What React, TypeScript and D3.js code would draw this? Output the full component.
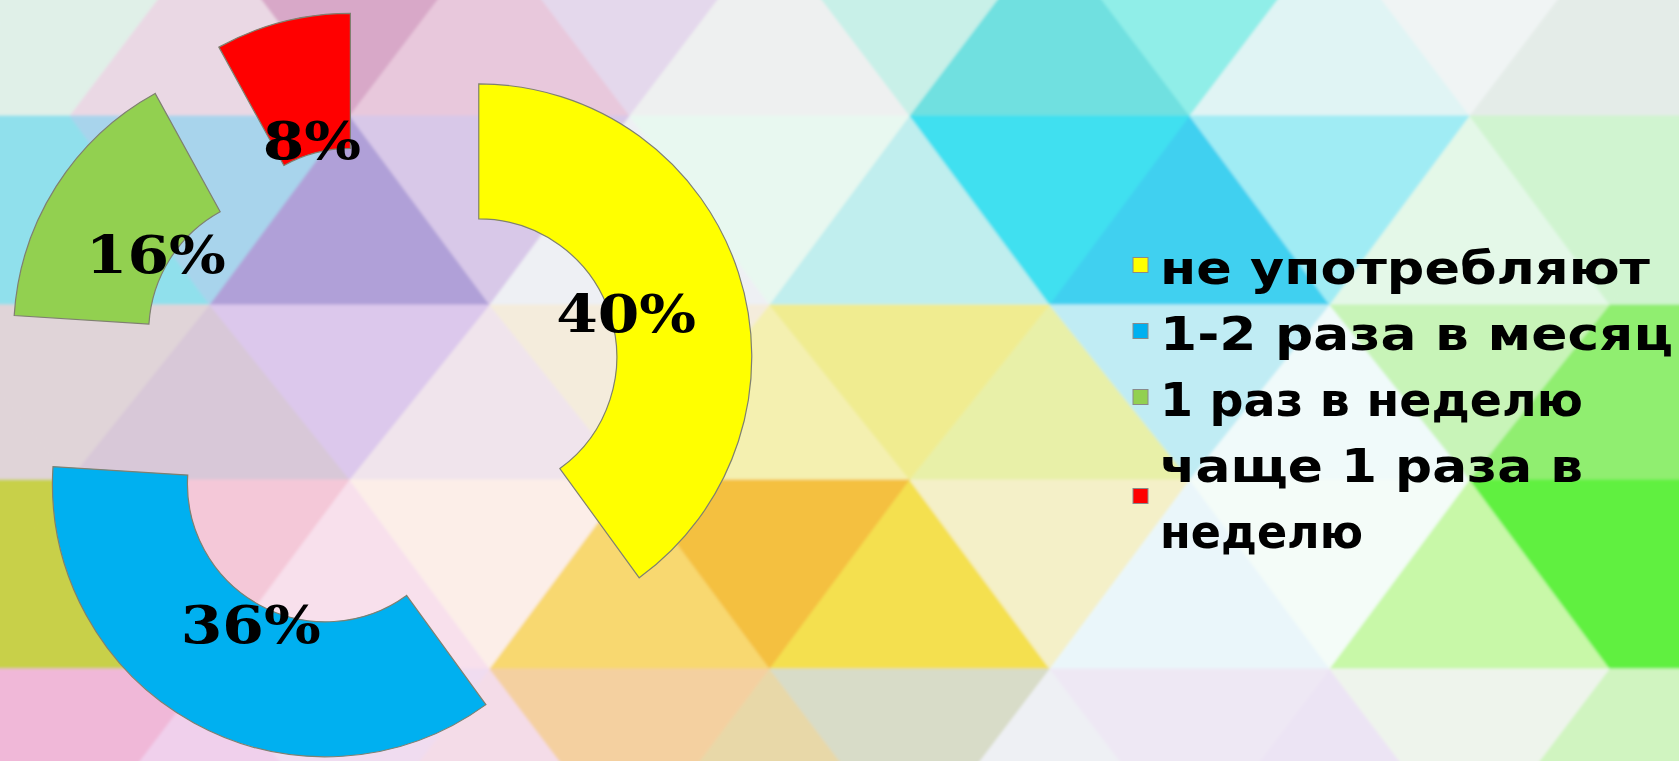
import React from 'react';
import * as d3 from 'd3';

// ---- data ----
const categories = ['не употребляют', '1-2 раза в месяц', '1 раз в неделю', 'чаще 1 раза в неделю'];
const values = [40, 36, 16, 8];
const sliceColors = ['#FFFF00', '#00B0F0', '#92D050', '#FF0000'];
const legendLines = [['не употребляют'], ['1-2 раза в месяц'], ['1 раз в неделю'], ['чаще 1 раза в', 'неделю']];
// rendered widths of each legend line (style, to mimic the original font's metrics)
const legendLineWidths = [[490], [513], [423], [423, 203]];

// background palette (approximation of the mosaic photo), rows x cols
const bgRows = [
  ['#e0f0e8', '#ead8e4', '#d8a8c8', '#e8c8dc', '#e4d8ec', '#eef0f0', '#c8f0e8', '#70e0e0', '#90eee8', '#e0f4f4', '#f0f4f4', '#e4ece8'],
  ['#90e0ec', '#a8d4ec', '#b0a0d8', '#d8c8e8', '#eef0f4', '#e8f8f0', '#c0eeee', '#40e0f0', '#40d0f0', '#a0ecf4', '#e4f8e8', '#d0f4d0'],
  ['#e0d4d8', '#d8c8d8', '#dcc8ec', '#f0e4ec', '#f4ecdc', '#f4f0b0', '#f0ec90', '#e8f0a8', '#c0ecf4', '#f0fafa', '#c8f4b8', '#90ee70'],
  ['#c8d048', '#f4c8d8', '#f8e0ec', '#fceee8', '#f8d870', '#f4c040', '#f4e050', '#f4f0c8', '#eaf6fa', '#f4fcf8', '#c8f8a8', '#60f040'],
  ['#f0b8d8', '#f0d0ec', '#f0dcf0', '#f4dce8', '#f4d0a0', '#e8d8a8', '#d8dcc8', '#eef0f4', '#eee8f4', '#ece4f4', '#eef4ec', '#d0f4c0'],
];

const W = 1679;
const H = 761;

function Background() {
  const bandTops = [-69, 116, 305, 480, 669];
  const half = 140;
  const tris: { pts: string; fill: string }[] = [];
  bandTops.forEach((y0, r) => {
    const y1 = r < bandTops.length - 1 ? bandTops[r + 1] : y0 + 185;
    const phase = r % 2 === 0 ? 0 : 1;
    for (let k = -2; k < 14; k++) {
      const cx = 70 + k * half;
      const down = (((k + phase) % 2) + 2) % 2 === 0;
      const pts = down
        ? [[cx - half, y0], [cx + half, y0], [cx, y1]]
        : [[cx - half, y1], [cx + half, y1], [cx, y0]];
      const col = Math.max(0, Math.min(11, k));
      tris.push({ pts: pts.map((p) => p.join(',')).join(' '), fill: bgRows[r][col] });
    }
  });
  return (
    <g filter="url(#soft)">
      <rect x={0} y={0} width={W} height={H} fill="#eef0f0" />
      {tris.map((t, i) => (
        <polygon key={i} points={t.pts} fill={t.fill} stroke={t.fill} strokeWidth={1} />
      ))}
    </g>
  );
}

export default function App() {
  const center = { x: 377, y: 390 };
  const explode = 107;
  const outerR = 273;
  const innerR = 138;
  const labelR = 155;

  const pie = d3.pie<number>().sort(null).value((d) => d).startAngle(0).endAngle(2 * Math.PI);
  const arcs = pie(values);
  const arcGen = d3.arc<d3.PieArcDatum<number>>().innerRadius(innerR).outerRadius(outerR);
  const labelArc = d3.arc<d3.PieArcDatum<number>>().innerRadius(labelR).outerRadius(labelR);
  const total = d3.sum(values);

  const legendX = 1133;
  const textX = 1160;
  const firstBaseline = 284;
  const lineStep = 66;
  const marker = 15;

  let lineIdx = 0;
  const legendItems = legendLines.map((lines, i) => {
    const start = lineIdx;
    lineIdx += lines.length;
    const baselines = lines.map((_, j) => firstBaseline + (start + j) * lineStep);
    const midBase = (baselines[0] + baselines[baselines.length - 1]) / 2;
    return { lines, baselines, widths: legendLineWidths[i], markerCy: midBase - 19, color: sliceColors[i], name: categories[i] };
  });

  return (
    <svg
      width={W}
      height={H}
      style={{ position: 'fixed', left: 0, top: 0, display: 'block' }}
      xmlns="http://www.w3.org/2000/svg"
    >
      <defs>
        <filter id="soft" x="-5%" y="-5%" width="110%" height="110%">
          <feGaussianBlur stdDeviation="1.5" />
        </filter>
      </defs>
      <Background />
      <g>
        {arcs.map((a, i) => {
          const mid = (a.startAngle + a.endAngle) / 2;
          const dx = explode * Math.sin(mid);
          const dy = -explode * Math.cos(mid);
          const [lx, ly] = labelArc.centroid(a);
          const pct = Math.round((a.value / total) * 100);
          return (
            <g key={i} transform={`translate(${center.x + dx},${center.y + dy})`}>
              <path d={arcGen(a) || ''} fill={sliceColors[i]} stroke="#7f8070" strokeWidth={1.2} />
              <g transform={`translate(${lx},${ly + 23}) scale(1.15,1)`}>
                <text
                  x={0}
                  y={0}
                  textAnchor="middle"
                  fontFamily="'DejaVu Serif', serif"
                  fontWeight="bold"
                  fontSize={52}
                  fill="#000"
                >
                  {pct}%
                </text>
              </g>
            </g>
          );
        })}
      </g>
      <g>
        {legendItems.map((it, i) => (
          <g key={i}>
            <rect
              x={legendX}
              y={it.markerCy - marker / 2}
              width={marker}
              height={marker}
              fill={it.color}
              stroke="#8a8a8a"
              strokeWidth={1}
            />
            {it.lines.map((ln, j) => (
              <text
                key={j}
                x={textX}
                y={it.baselines[j]}
                fontFamily="'DejaVu Sans', sans-serif"
                fontWeight="bold"
                fontSize={47}
                fill="#000"
                textLength={it.widths[j]}
                lengthAdjust="spacingAndGlyphs"
              >
                {ln}
              </text>
            ))}
          </g>
        ))}
      </g>
    </svg>
  );
}
